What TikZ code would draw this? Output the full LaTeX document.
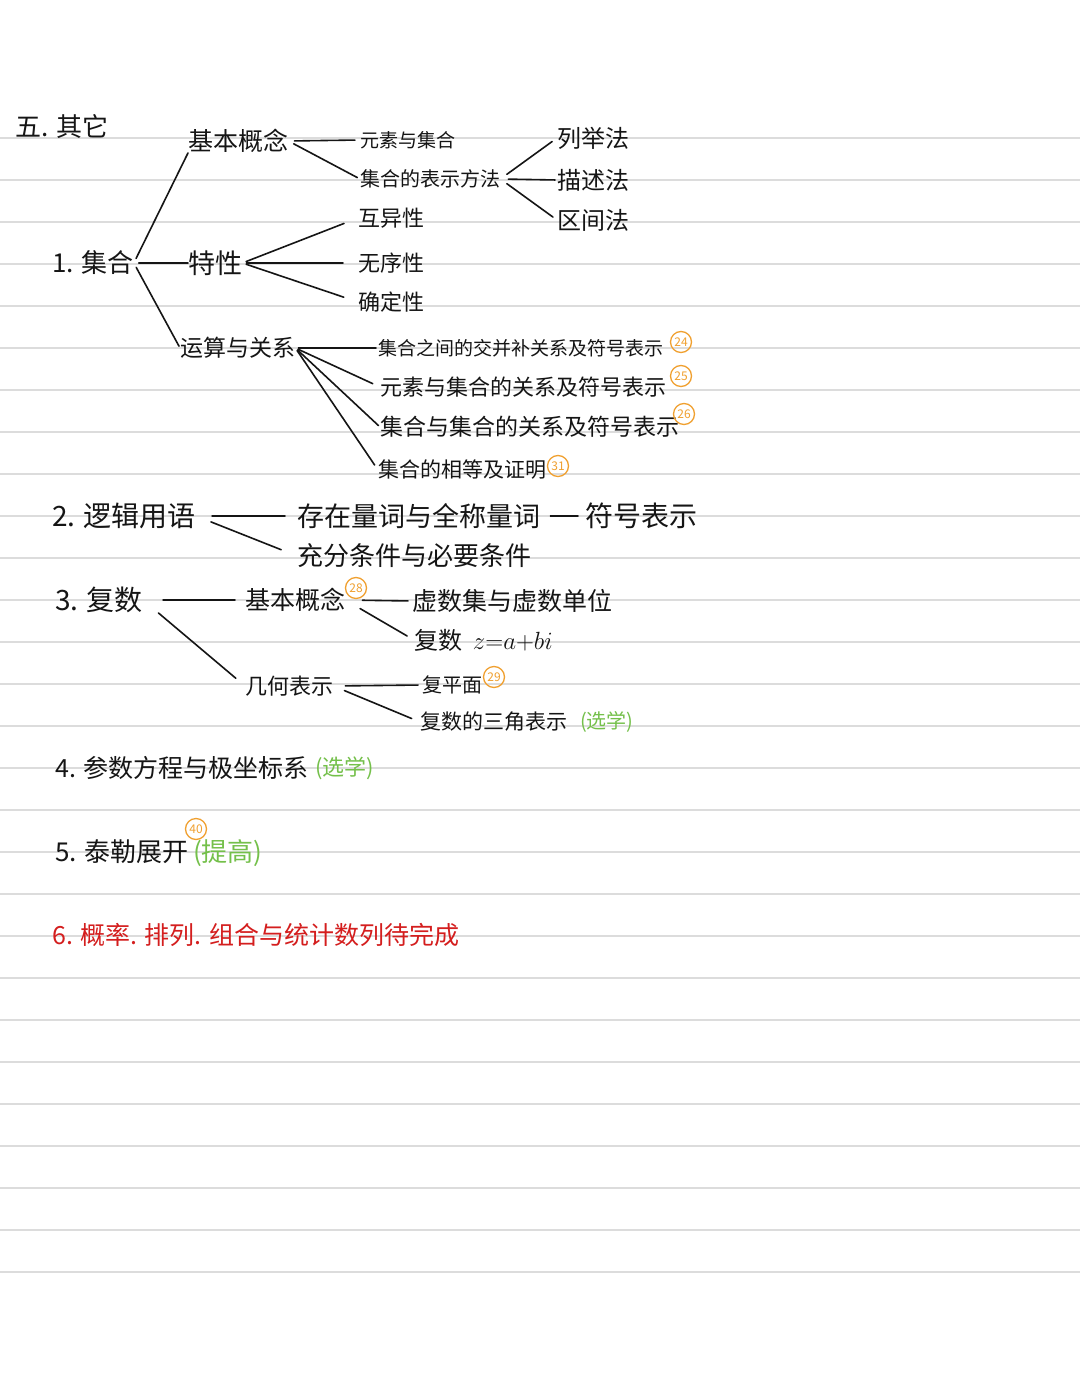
\documentclass[tikz,border=0pt]{standalone}
\usepackage{fontspec}
\setmainfont{Noto Sans CJK SC}
\newcommand\fsz[1]{\fontsize{#1}{#1}\selectfont}
\definecolor{ink}{HTML}{151515}
\definecolor{rulec}{HTML}{DCDCDC}
\definecolor{orng}{HTML}{F0A030}
\definecolor{grn}{HTML}{74C04A}
\definecolor{redink}{HTML}{D41E1E}
\begin{document}
\begin{tikzpicture}[x=1pt,y=-1pt,
  t/.style={anchor=west,inner sep=0pt,text=ink,font=\fsz{#1}},
  cn/.style={draw=orng,circle,line width=1.3pt,inner sep=0pt,minimum size=21pt,text=orng,font=\fsz{12}},
  br/.style={draw=ink,line width=1.6pt,line cap=round},
  rule/.style={draw=rulec,line width=1.6pt}]
\useasboundingbox[fill=white] (0,0) rectangle (1080,1394);
\foreach \i in {0,...,27} \draw[rule] (0,138+42*\i) -- (1080,138+42*\i);

% heading
\node[t=26] (top) at (15,127) {五. 其它};

% 1. 集合
\node[t=26] (jh) at (52,263) {1. 集合};
\node[t=25] (jb1) at (188,141) {基本概念};
\node[t=27] (tx) at (188,263) {特性};
\node[t=23] (ys) at (180,348) {运算与关系};
\node[t=19] (ysj) at (360,140) {元素与集合};
\node[t=20] (bs) at (360,179) {集合的表示方法};
\node[t=24] (lj) at (557,138) {列举法};
\node[t=24] (ms) at (557,180) {描述法};
\node[t=24] (qj) at (557,220) {区间法};
\node[t=22] (hy) at (358,218) {互异性};
\node[t=22] (wx) at (358,263) {无序性};
\node[t=22] (qd) at (358,302) {确定性};
\node[t=19] (r1) at (378,348) {集合之间的交并补关系及符号表示};
\node[cn] (c24) at (681,342) {24};
\node[t=22] (r2) at (380,387) {元素与集合的关系及符号表示};
\node[cn] (c25) at (681,376) {25};
\node[t=23] (r3) at (380,427) {集合与集合的关系及符号表示};
\node[cn] (c26) at (684,414) {26};
\node[t=21] (r4) at (378,470) {集合的相等及证明};
\node[cn] (c31) at (558,466) {31};

\draw[br,shorten <=5pt] (jh.east) -- (jb1.south west);
\draw[br,shorten <=5pt] (jh.east) -- (tx.west);
\draw[br,shorten <=5pt,shorten >=2pt] (jh.east) -- (ys.west);
\draw[br,shorten <=6pt,shorten >=5pt] (jb1.east) -- (ysj.west);
\draw[br,shorten <=6pt,shorten >=3pt] (jb1.east) -- (bs.west);
\draw[br,shorten <=8pt,shorten >=6pt] (bs.east) -- (lj.west);
\draw[br,shorten <=8pt,shorten >=2pt] (bs.east) -- (ms.west);
\draw[br,shorten <=8pt,shorten >=5pt] (bs.east) -- (qj.west);
\draw[br,shorten <=4pt,shorten >=15pt] (tx.east) -- (hy.west);
\draw[br,shorten <=4pt,shorten >=15pt] (tx.east) -- (wx.west);
\draw[br,shorten <=4pt,shorten >=15pt] (tx.east) -- (qd.west);
\draw[br,shorten <=3pt,shorten >=2pt] (ys.east) -- (r1.west);
\draw[br,shorten <=3pt,shorten >=8pt] (ys.east) -- (r2.west);
\draw[br,shorten <=3pt,shorten >=2pt] (ys.east) -- (r3.west);
\draw[br,shorten <=3pt,shorten >=6pt] (ys.east) -- (r4.west);

% 2. 逻辑用语
\node[t=28] (lg) at (52,516) {2. 逻辑用语};
\node[t=27] (cz) at (297,516) {存在量词与全称量词};
\node[t=28] (fh) at (585,516) {符号表示};
\node[t=26] (cf) at (297,556) {充分条件与必要条件};
\draw[br,shorten <=16pt,shorten >=12pt] (lg.east) -- (cz.west);
\draw[br,shorten <=16pt,shorten >=17pt] (lg.east) -- (cf.west);
\draw[br,shorten <=10pt,shorten >=7pt] (cz.east) -- (fh.west);

% 3. 复数
\node[t=28] (fs) at (55,600) {3. 复数};
\node[t=25] (jb2) at (245,600) {基本概念};
\node[cn] (c28) at (356,588) {28};
\node[t=25] (xs) at (412,601) {虚数集与虚数单位};
\node[t=24] (fz) at (414,640) {复数\ \ $z{=}a{+}bi$};
\node[t=22] (jh2) at (245,686) {几何表示};
\node[t=20] (fpm) at (422,685) {复平面};
\node[cn] (c29) at (494,677) {29};
\node[t=21] (sj) at (420,722) {复数的三角表示};
\node[t=20,text=grn] (xx1) at (580,722) {(选学)};
\draw[br,shorten <=20pt,shorten >=10pt] (fs.east) -- (jb2.west);
\draw[br,shorten <=20pt,shorten >=12pt] (fs.east) -- (jh2.west);
\draw[br,shorten <=17pt,shorten >=4pt] (jb2.east) -- (xs.west);
\draw[br,shorten <=17pt,shorten >=8pt] (jb2.east) -- (fz.west);
\draw[br,shorten <=12pt,shorten >=4pt] (jh2.east) -- (fpm.west);
\draw[br,shorten <=12pt,shorten >=9pt] (jh2.east) -- (sj.west);

% 4, 5, 6
\node[t=25] (cs) at (55,768) {4. 参数方程与极坐标系};
\node[t=22,text=grn] (xx2) at (315,768) {(选学)};
\node[t=26] (tl) at (55,852) {5. 泰勒展开};
\node[cn] (c40) at (196,829) {40};
\node[t=26,text=grn] (tg) at (193,853) {(提高)};
\node[t=25,text=redink] (gl) at (52,935) {6. 概率. 排列. 组合与统计数列待完成};
\end{tikzpicture}
\end{document}
